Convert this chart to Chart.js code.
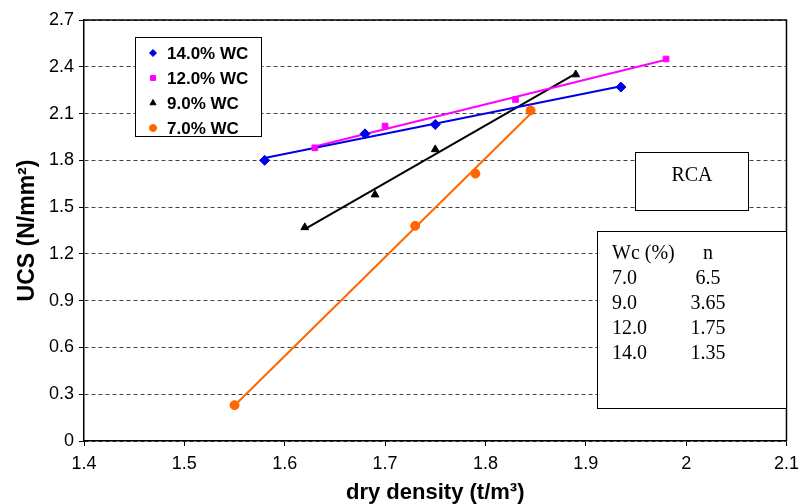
<!DOCTYPE html>
<html lang="en">
<head>
<meta charset="UTF-8">
<title>UCS vs dry density</title>
<script src="https://cdn.jsdelivr.net/npm/chart.js"></script>
<style>
  html, body { margin: 0; padding: 0; background: #fff; }
  #wrap { width: 806px; height: 504px; }
</style>
</head>
<body>
<div id="wrap"><canvas id="grafica" width="806" height="504"></canvas></div>
<script>
// dry density (t/m3) and UCS (N/mm2) for each water content
const density14 = [1.58, 1.68, 1.75, 1.935];
const ucs14     = [1.80, 1.97, 2.03, 2.27];
const density12 = [1.63, 1.70, 1.83, 1.98];
const ucs12     = [1.88, 2.02, 2.19, 2.45];
const density9  = [1.62, 1.69, 1.75, 1.89];
const ucs9      = [1.37, 1.58, 1.87, 2.35];
const density7  = [1.55, 1.73, 1.79, 1.845];
const ucs7      = [0.23, 1.38, 1.715, 2.12];

const seriesLabels = ['14.0% WC', '12.0% WC', '9.0% WC', '7.0% WC'];

// axis ticks
const xTicks = [1.4, 1.5, 1.6, 1.7, 1.8, 1.9, 2.0, 2.1];
const xTickLabels = ['1.4', '1.5', '1.6', '1.7', '1.8', '1.9', '2', '2.1'];
const yTicks = [0, 0.3, 0.6, 0.9, 1.2, 1.5, 1.8, 2.1, 2.4, 2.7];
const yTickLabels = ['0', '0.3', '0.6', '0.9', '1.2', '1.5', '1.8', '2.1', '2.4', '2.7'];

// fitted exponent table
const wcValues = ['7.0', '9.0', '12.0', '14.0'];
const nValues = ['6.5', '3.65', '1.75', '1.35'];

const sans = 'Liberation Sans, Arial, sans-serif';
const serif = 'Liberation Serif, Times New Roman, serif';
Chart.defaults.font.family = sans;
Chart.defaults.color = '#000';

const estilos = [
  { color: '#0000E6', style: 'rectRot', radius: 5 },
  { color: '#FF00FF', style: 'rect', radius: 4 },
  { color: '#000000', style: 'triangle', radius: 4.5 },
  { color: '#FF6600', style: 'circle', radius: 4.5 }
];
const series = [
  [density14, ucs14],
  [density12, ucs12],
  [density9, ucs9],
  [density7, ucs7]
];

// least squares line across the measured range
function ajusteLineal(xs, ys) {
  const n = xs.length;
  const mx = xs.reduce((a, b) => a + b, 0) / n;
  const my = ys.reduce((a, b) => a + b, 0) / n;
  let sxy = 0, sxx = 0;
  for (let i = 0; i < n; i++) {
    sxy += (xs[i] - mx) * (ys[i] - my);
    sxx += (xs[i] - mx) * (xs[i] - mx);
  }
  const b = sxy / sxx;
  const a = my - b * mx;
  const x0 = Math.min(...xs), x1 = Math.max(...xs);
  return [{ x: x0, y: a + b * x0 }, { x: x1, y: a + b * x1 }];
}

const datasets = [];
series.forEach(([xs, ys], i) => {
  const e = estilos[i];
  datasets.push({
    label: seriesLabels[i],
    data: xs.map((x, j) => ({ x: x, y: ys[j] })),
    showLine: false,
    pointStyle: e.style,
    pointRadius: e.radius,
    backgroundColor: e.color,
    borderColor: e.color,
    borderWidth: 1,
    order: 0
  });
  datasets.push({
    label: seriesLabels[i] + ' fit',
    data: ajusteLineal(xs, ys),
    showLine: true,
    pointRadius: 0,
    borderColor: e.color,
    borderWidth: 2,
    order: 1
  });
});

// top and right frame of the plot area
const marco = {
  id: 'marco',
  beforeDatasetsDraw(chart) {
    const { ctx, chartArea: a } = chart;
    ctx.save();
    ctx.strokeStyle = '#000';
    ctx.lineWidth = 1.5;
    ctx.beginPath();
    ctx.moveTo(a.left, a.top);
    ctx.lineTo(a.right, a.top);
    ctx.lineTo(a.right, a.bottom);
    ctx.stroke();
    ctx.restore();
  }
};

function caja(ctx, x, y, w, h) {
  ctx.fillStyle = '#fff';
  ctx.fillRect(x, y, w, h);
  ctx.strokeStyle = '#000';
  ctx.lineWidth = 1;
  ctx.strokeRect(x + 0.5, y + 0.5, w, h);
}

// legend, RCA label and exponent table
const cajas = {
  id: 'cajas',
  afterDraw(chart) {
    const ctx = chart.ctx;
    ctx.save();

    caja(ctx, 135, 37, 126, 99);
    ctx.textBaseline = 'middle';
    seriesLabels.forEach((lab, i) => {
      const y = 53 + i * 25;
      const e = estilos[i];
      ctx.fillStyle = e.color;
      ctx.strokeStyle = e.color;
      Chart.helpers.drawPoint(ctx, { pointStyle: e.style, radius: 3.5, rotation: 0, borderWidth: 1 }, 153, y);
      ctx.fillStyle = '#000';
      ctx.font = 'bold 17px ' + sans;
      ctx.textAlign = 'left';
      ctx.fillText(lab, 167, y + 1);
    });

    caja(ctx, 635, 152, 113, 58);
    ctx.fillStyle = '#000';
    ctx.font = '20px ' + serif;
    ctx.textAlign = 'center';
    ctx.fillText('RCA', 692, 176);

    caja(ctx, 597, 231, 189, 177);
    ctx.fillStyle = '#000';
    ctx.font = '20px ' + serif;
    ctx.textAlign = 'left';
    ctx.fillText('Wc (%)', 612, 254);
    ctx.textAlign = 'center';
    ctx.fillText('n', 708, 254);
    wcValues.forEach((wc, i) => {
      const y = 279 + i * 25;
      ctx.textAlign = 'left';
      ctx.fillText(wc, 612, y);
      ctx.textAlign = 'center';
      ctx.fillText(nValues[i], 708, y);
    });
    ctx.restore();
  }
};

const ctx = document.getElementById('grafica').getContext('2d');
new Chart(ctx, {
  type: 'scatter',
  data: { datasets: datasets },
  options: {
    responsive: false,
    animation: false,
    devicePixelRatio: 1,
    layout: { padding: { left: 0, top: 20, right: 11, bottom: 0 } },
    plugins: { legend: { display: false }, tooltip: { enabled: false } },
    scales: {
      x: {
        type: 'linear',
        min: 1.4,
        max: 2.1,
        afterBuildTicks: (s) => { s.ticks = xTicks.map(v => ({ value: v })); },
        afterFit: (s) => { s.height = 63; },
        ticks: {
          callback: (v, i) => xTickLabels[i],
          font: { size: 18 },
          color: '#000',
          padding: 7,
          maxRotation: 0,
          autoSkip: false
        },
        grid: { drawOnChartArea: false, drawTicks: true, tickLength: 5, tickColor: '#000' },
        border: { color: '#000', width: 1.5 },
        title: {
          display: true,
          text: 'dry density (t/m³)',
          font: { size: 22, weight: 'bold', lineHeight: 1 },
          color: '#000',
          padding: { top: 1, bottom: 0 }
        }
      },
      y: {
        min: 0,
        max: 2.7,
        afterBuildTicks: (s) => { s.ticks = yTicks.map(v => ({ value: v })); },
        afterFit: (s) => { s.width = 84; },
        ticks: {
          callback: (v, i) => yTickLabels[i],
          font: { size: 18 },
          color: '#000',
          padding: 5,
          autoSkip: false
        },
        grid: {
          color: '#444',
          lineWidth: 1,
          tickLength: 5,
          tickColor: '#000',
          tickBorderDash: []
        },
        border: { color: '#000', width: 1.5, dash: [4, 3] },
        title: {
          display: true,
          text: 'UCS (N/mm²)',
          font: { size: 23, weight: 'bold', lineHeight: 1.2 },
          color: '#000',
          padding: { top: 14, bottom: 0 }
        }
      }
    }
  },
  plugins: [marco, cajas]
});
</script>
</body>
</html>
